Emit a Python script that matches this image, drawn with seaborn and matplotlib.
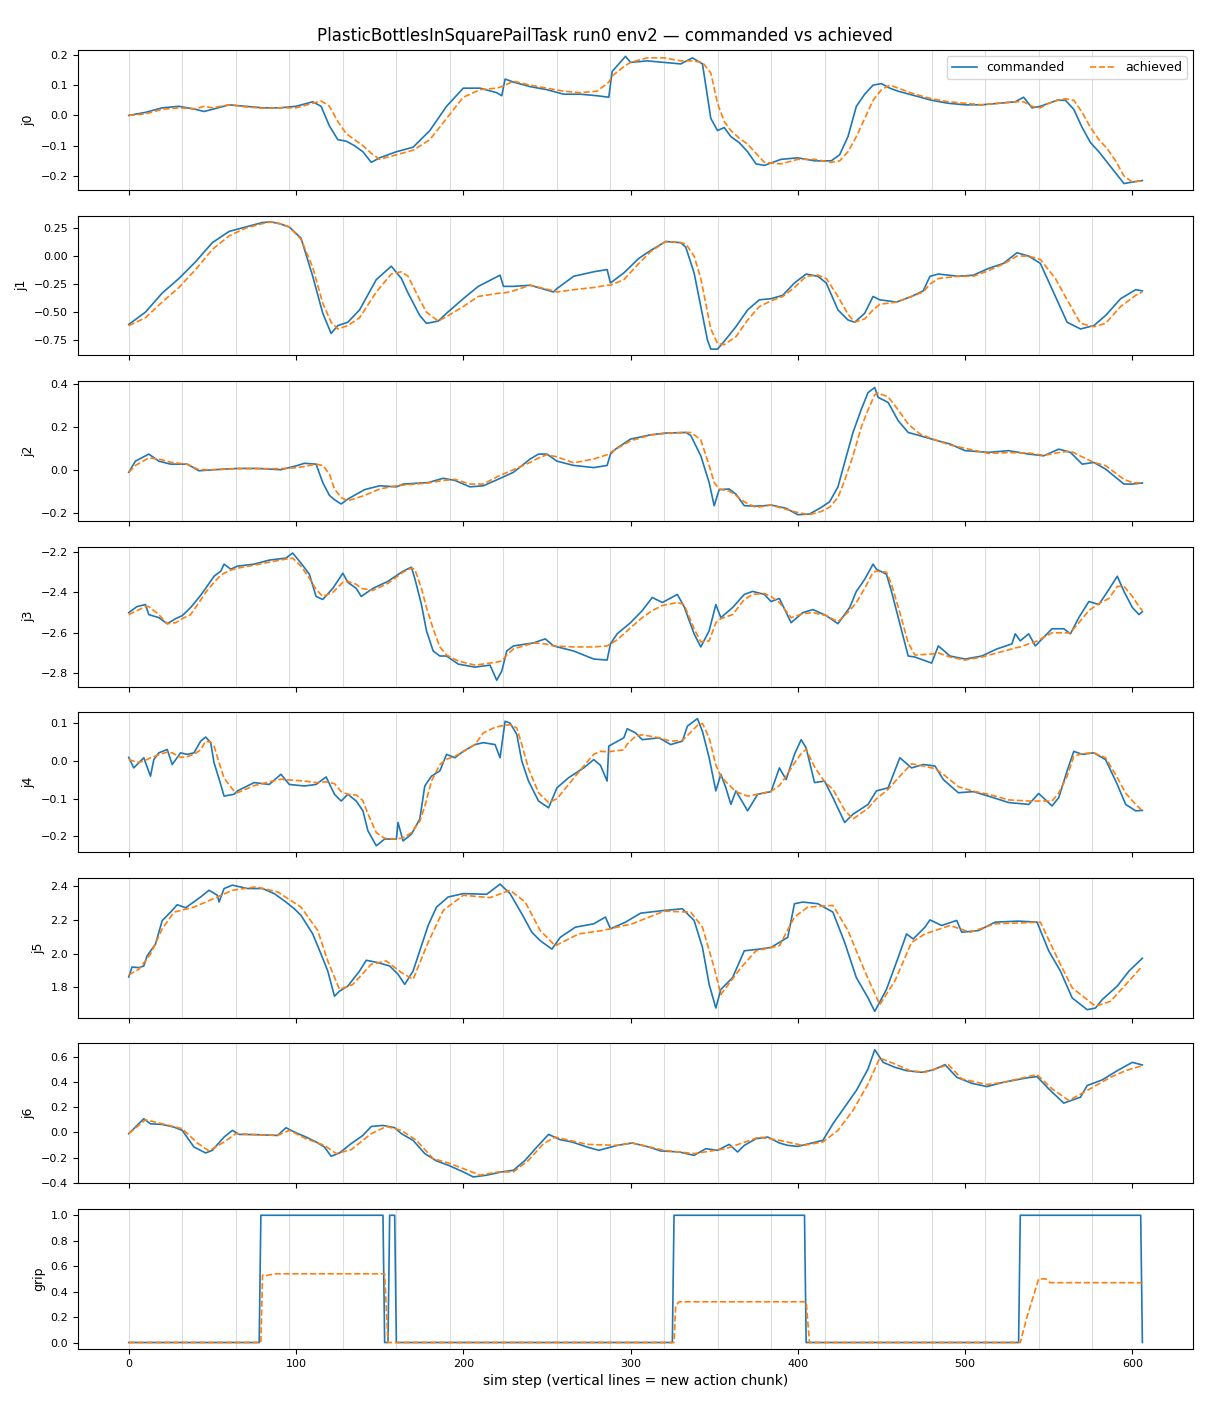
import matplotlib
matplotlib.use("Agg")
import matplotlib.pyplot as plt
import seaborn as sns

# Commanded vs achieved joint positions (sim steps 0-606)
chunk_starts = [0, 32, 64, 96, 128, 160, 192, 224, 256, 288,
                320, 352, 384, 416, 448, 480, 512, 544, 576]

joint_names = ["j0", "j1", "j2", "j3", "j4", "j5", "j6", "grip"]

# ---- j0
j0_steps = [0, 10, 20, 30, 40, 45, 50, 60, 70, 80,
            90, 100, 110, 115, 120, 125, 130, 135, 140, 145,
            150, 160, 170, 180, 190, 200, 210, 220, 223, 225,
            230, 240, 250, 260, 270, 280, 287, 289, 297, 300,
            310, 320, 330, 337, 343, 348, 352, 356, 360, 365,
            370, 375, 380, 390, 400, 410, 420, 425, 430, 435,
            440, 445, 450, 455, 460, 470, 480, 490, 500, 510,
            520, 530, 535, 540, 545, 550, 555, 560, 565, 570,
            575, 580, 585, 590, 595, 600, 606]
j0_cmd = [0.0, 0.01, 0.025, 0.03, 0.02, 0.013, 0.02, 0.035, 0.03, 0.025,
          0.025, 0.03, 0.045, 0.03, -0.035, -0.08, -0.085, -0.1, -0.12, -0.155,
          -0.14, -0.12, -0.105, -0.05, 0.03, 0.09, 0.09, 0.075, 0.065, 0.12,
          0.11, 0.095, 0.085, 0.07, 0.07, 0.065, 0.06, 0.145, 0.195, 0.175,
          0.18, 0.175, 0.17, 0.19, 0.17, -0.01, -0.05, -0.04, -0.07, -0.09,
          -0.12, -0.16, -0.165, -0.145, -0.14, -0.15, -0.15, -0.13, -0.07, 0.03,
          0.07, 0.1, 0.105, 0.09, 0.08, 0.065, 0.05, 0.04, 0.035, 0.035,
          0.04, 0.045, 0.06, 0.025, 0.03, 0.04, 0.05, 0.05, 0.02, -0.04,
          -0.09, -0.12, -0.155, -0.19, -0.225, -0.22, -0.215]
j0_ach = [0.0, 0.005, 0.02, 0.025, 0.022, 0.03, 0.025, 0.035, 0.028, 0.024,
          0.025, 0.025, 0.04, 0.048, 0.03, -0.02, -0.06, -0.08, -0.1, -0.125,
          -0.145, -0.13, -0.115, -0.08, -0.01, 0.06, 0.085, 0.09, 0.095, 0.1,
          0.113, 0.1, 0.09, 0.08, 0.075, 0.08, 0.11, 0.13, 0.165, 0.175,
          0.19, 0.19, 0.18, 0.18, 0.175, 0.14, 0.04, -0.02, -0.05, -0.075,
          -0.095, -0.125, -0.155, -0.16, -0.145, -0.145, -0.155, -0.15, -0.12, -0.07,
          -0.01, 0.05, 0.085, 0.1, 0.09, 0.07, 0.055, 0.045, 0.04, 0.035,
          0.04, 0.045, 0.045, 0.03, 0.025, 0.04, 0.05, 0.055, 0.05, 0.01,
          -0.04, -0.08, -0.11, -0.15, -0.2, -0.22, -0.215]

# ---- j1
j1_steps = [0, 10, 20, 30, 40, 50, 60, 70, 80, 85,
            90, 96, 103, 110, 116, 121, 125, 131, 138, 148,
            157, 163, 167, 174, 178, 185, 190, 200, 209, 222,
            224, 230, 240, 254, 256, 266, 278, 286, 288, 296,
            305, 312, 321, 330, 333, 338, 342, 346, 348, 352,
            356, 363, 370, 377, 384, 391, 398, 405, 412, 417,
            424, 430, 434, 440, 445, 449, 459, 468, 475, 479,
            484, 496, 505, 514, 523, 531, 538, 545, 554, 561,
            569, 577, 584, 593, 602, 606]
j1_cmd = [-0.61, -0.5, -0.33, -0.2, -0.05, 0.12, 0.22, 0.26, 0.3, 0.305,
          0.29, 0.26, 0.16, -0.18, -0.51, -0.69, -0.62, -0.59, -0.48, -0.21,
          -0.09, -0.2, -0.33, -0.53, -0.6, -0.58, -0.51, -0.38, -0.27, -0.17,
          -0.27, -0.27, -0.26, -0.32, -0.29, -0.18, -0.14, -0.12, -0.24, -0.15,
          -0.02, 0.05, 0.13, 0.12, 0.08, -0.15, -0.45, -0.75, -0.83, -0.83,
          -0.76, -0.63, -0.48, -0.39, -0.38, -0.35, -0.24, -0.16, -0.18, -0.24,
          -0.48, -0.57, -0.59, -0.51, -0.36, -0.39, -0.41, -0.36, -0.31, -0.18,
          -0.16, -0.18, -0.17, -0.11, -0.065, 0.03, 0.0, -0.065, -0.36, -0.59,
          -0.65, -0.62, -0.53, -0.38, -0.3, -0.31]
j1_ach = [-0.62, -0.55, -0.41, -0.28, -0.12, 0.06, 0.18, 0.25, 0.29, 0.305,
          0.29, 0.26, 0.15, -0.1, -0.42, -0.59, -0.65, -0.62, -0.55, -0.32,
          -0.16, -0.14, -0.18, -0.39, -0.5, -0.58, -0.54, -0.45, -0.36, -0.33,
          -0.33, -0.31, -0.26, -0.31, -0.32, -0.3, -0.28, -0.26, -0.26, -0.21,
          -0.065, 0.04, 0.13, 0.12, 0.11, 0.0, -0.2, -0.5, -0.65, -0.78,
          -0.79, -0.72, -0.57, -0.45, -0.4, -0.36, -0.28, -0.18, -0.17, -0.2,
          -0.36, -0.52, -0.59, -0.56, -0.48, -0.43, -0.41, -0.36, -0.32, -0.25,
          -0.2, -0.18, -0.18, -0.13, -0.07, 0.0, 0.0, -0.03, -0.2, -0.39,
          -0.6, -0.63, -0.6, -0.45, -0.35, -0.32]

# ---- j2
j2_steps = [0, 4, 12, 18, 25, 35, 42, 51, 65, 77,
            91, 101, 105, 112, 116, 120, 123, 127, 131, 141,
            150, 160, 164, 179, 188, 195, 204, 212, 221, 230,
            240, 245, 250, 256, 266, 278, 286, 288, 291, 300,
            312, 321, 333, 336, 342, 347, 350, 353, 359, 363,
            368, 375, 380, 384, 393, 400, 407, 414, 419, 424,
            428, 433, 438, 442, 446, 448, 454, 460, 466, 473,
            480, 491, 500, 514, 526, 538, 547, 556, 563, 570,
            577, 584, 595, 600, 606]
j2_cmd = [-0.012, 0.04, 0.073, 0.04, 0.026, 0.026, -0.005, 0.0, 0.006, 0.006,
          0.0, 0.02, 0.03, 0.026, -0.06, -0.12, -0.14, -0.16, -0.137, -0.093,
          -0.075, -0.08, -0.067, -0.06, -0.04, -0.05, -0.08, -0.075, -0.044, -0.012,
          0.05, 0.073, 0.073, 0.04, 0.02, 0.01, 0.02, 0.073, 0.096, 0.143,
          0.163, 0.171, 0.174, 0.16, 0.065, -0.06, -0.168, -0.093, -0.09, -0.114,
          -0.168, -0.17, -0.168, -0.165, -0.18, -0.21, -0.207, -0.176, -0.15, -0.08,
          0.034, 0.174, 0.283, 0.36, 0.384, 0.338, 0.314, 0.229, 0.174, 0.159,
          0.143, 0.12, 0.089, 0.081, 0.089, 0.073, 0.065, 0.096, 0.081, 0.026,
          0.034, 0.003, -0.067, -0.067, -0.062]
j2_ach = [-0.012, 0.02, 0.055, 0.05, 0.035, 0.025, 0.0, 0.0, 0.005, 0.005,
          0.005, 0.01, 0.015, 0.026, 0.02, -0.02, -0.09, -0.13, -0.145, -0.12,
          -0.09, -0.075, -0.072, -0.062, -0.05, -0.045, -0.067, -0.067, -0.03, 0.0,
          0.034, 0.055, 0.07, 0.06, 0.032, 0.05, 0.07, 0.08, 0.095, 0.135,
          0.162, 0.17, 0.174, 0.174, 0.14, 0.02, -0.06, -0.09, -0.1, -0.12,
          -0.15, -0.176, -0.17, -0.165, -0.185, -0.2, -0.21, -0.195, -0.175, -0.13,
          -0.05, 0.065, 0.2, 0.28, 0.35, 0.358, 0.34, 0.28, 0.213, 0.167,
          0.145, 0.115, 0.1, 0.076, 0.08, 0.078, 0.067, 0.08, 0.087, 0.06,
          0.034, 0.019, -0.045, -0.06, -0.062]

# ---- j3
j3_steps = [0, 5, 10, 12, 18, 23, 28, 32, 37, 42,
            46, 51, 55, 57, 61, 65, 75, 84, 94, 98,
            103, 108, 112, 116, 122, 128, 131, 136, 139, 146,
            155, 164, 169, 171, 175, 178, 182, 186, 190, 197,
            207, 216, 220, 223, 226, 230, 242, 249, 254, 266,
            278, 286, 288, 292, 300, 307, 313, 319, 328, 332,
            338, 342, 347, 351, 354, 361, 368, 373, 380, 384,
            389, 396, 403, 409, 417, 424, 431, 435, 440, 445,
            447, 453, 456, 461, 466, 470, 480, 484, 491, 500,
            510, 519, 528, 530, 533, 538, 542, 552, 559, 563,
            568, 574, 580, 586, 591, 595, 600, 604, 606]
j3_cmd = [-2.5, -2.47, -2.46, -2.51, -2.525, -2.555, -2.53, -2.515, -2.475, -2.425,
          -2.38, -2.32, -2.295, -2.26, -2.285, -2.27, -2.26, -2.24, -2.23, -2.205,
          -2.255, -2.31, -2.42, -2.435, -2.38, -2.305, -2.35, -2.38, -2.42, -2.38,
          -2.345, -2.295, -2.275, -2.33, -2.46, -2.59, -2.69, -2.715, -2.715, -2.755,
          -2.77, -2.76, -2.835, -2.79, -2.69, -2.665, -2.65, -2.63, -2.665, -2.69,
          -2.73, -2.735, -2.655, -2.605, -2.55, -2.49, -2.425, -2.45, -2.41, -2.47,
          -2.605, -2.67, -2.59, -2.46, -2.525, -2.475, -2.41, -2.395, -2.41, -2.445,
          -2.43, -2.55, -2.5, -2.485, -2.515, -2.555, -2.475, -2.395, -2.335, -2.26,
          -2.285, -2.31, -2.395, -2.555, -2.715, -2.72, -2.75, -2.665, -2.715, -2.73,
          -2.715, -2.68, -2.655, -2.605, -2.64, -2.605, -2.665, -2.58, -2.58, -2.605,
          -2.525, -2.445, -2.46, -2.385, -2.32, -2.395, -2.475, -2.51, -2.495]
j3_ach = [-2.51, -2.49, -2.47, -2.47, -2.51, -2.555, -2.55, -2.53, -2.51, -2.45,
          -2.4, -2.35, -2.315, -2.305, -2.29, -2.28, -2.265, -2.25, -2.235, -2.23,
          -2.27, -2.33, -2.385, -2.42, -2.4, -2.35, -2.345, -2.36, -2.38, -2.39,
          -2.355, -2.3, -2.28, -2.285, -2.38, -2.475, -2.58, -2.67, -2.71, -2.74,
          -2.76, -2.75, -2.745, -2.74, -2.71, -2.68, -2.65, -2.655, -2.665, -2.67,
          -2.67, -2.665, -2.655, -2.635, -2.575, -2.525, -2.49, -2.465, -2.45, -2.46,
          -2.58, -2.645, -2.64, -2.55, -2.53, -2.51, -2.435, -2.41, -2.405, -2.42,
          -2.45, -2.525, -2.505, -2.5, -2.515, -2.545, -2.49, -2.45, -2.38, -2.3,
          -2.295, -2.3, -2.36, -2.5, -2.65, -2.71, -2.705, -2.7, -2.72, -2.735,
          -2.72, -2.7, -2.68, -2.675, -2.67, -2.655, -2.645, -2.6, -2.6, -2.6,
          -2.55, -2.49, -2.455, -2.43, -2.37, -2.37, -2.42, -2.47, -2.49]

# ---- j4
j4_steps = [0, 3, 5, 9, 13, 15, 18, 23, 26, 31,
            35, 39, 43, 46, 49, 51, 55, 57, 63, 65,
            75, 84, 91, 96, 105, 112, 118, 123, 127, 131,
            136, 140, 143, 148, 153, 160, 161, 164, 169, 174,
            177, 181, 186, 190, 195, 200, 207, 212, 219, 222,
            225, 228, 232, 235, 239, 245, 251, 256, 263, 272,
            278, 282, 286, 287, 296, 298, 303, 307, 317, 324,
            331, 334, 340, 343, 347, 351, 354, 357, 360, 363,
            370, 376, 384, 389, 393, 398, 402, 405, 410, 416,
            421, 428, 433, 442, 447, 454, 461, 468, 475, 482,
            487, 496, 505, 514, 526, 538, 544, 552, 556, 561,
            565, 570, 577, 584, 591, 596, 602, 606]
j4_cmd = [0.01, -0.018, -0.009, 0.009, -0.04, 0.004, 0.022, 0.031, -0.009, 0.022,
          0.018, 0.022, 0.053, 0.064, 0.049, -0.004, -0.062, -0.093, -0.088, -0.079,
          -0.057, -0.062, -0.035, -0.062, -0.066, -0.062, -0.042, -0.088, -0.106, -0.088,
          -0.106, -0.132, -0.185, -0.225, -0.207, -0.207, -0.163, -0.212, -0.194, -0.154,
          -0.066, -0.04, -0.026, 0.018, 0.009, 0.026, 0.044, 0.049, 0.044, 0.009,
          0.106, 0.101, 0.071, 0.0, -0.053, -0.106, -0.124, -0.071, -0.044, -0.018,
          0.004, -0.011, -0.053, 0.04, 0.062, 0.086, 0.075, 0.057, 0.062, 0.044,
          0.053, 0.093, 0.113, 0.079, 0.009, -0.079, -0.035, -0.071, -0.115, -0.079,
          -0.132, -0.088, -0.081, -0.018, -0.049, 0.018, 0.057, 0.035, -0.057, -0.053,
          -0.097, -0.163, -0.141, -0.115, -0.079, -0.071, 0.009, -0.018, -0.009, -0.013,
          -0.049, -0.084, -0.081, -0.093, -0.11, -0.115, -0.086, -0.119, -0.097, -0.026,
          0.026, 0.018, 0.022, 0.004, -0.062, -0.115, -0.132, -0.131]
j4_ach = [0.004, 0.0, -0.004, 0.0, 0.009, 0.012, 0.017, 0.024, 0.022, 0.01,
          0.012, 0.018, 0.03, 0.053, 0.05, 0.04, -0.018, -0.045, -0.08, -0.084,
          -0.065, -0.055, -0.048, -0.05, -0.053, -0.057, -0.055, -0.06, -0.081, -0.088,
          -0.09, -0.105, -0.14, -0.19, -0.205, -0.207, -0.206, -0.204, -0.19, -0.16,
          -0.12, -0.053, -0.009, 0.005, 0.013, 0.025, 0.044, 0.075, 0.09, 0.093,
          0.095, 0.097, 0.088, 0.044, -0.02, -0.084, -0.11, -0.1, -0.062, -0.013,
          0.018, 0.026, 0.025, 0.025, 0.03, 0.045, 0.066, 0.07, 0.062, 0.053,
          0.055, 0.068, 0.095, 0.1, 0.062, -0.01, -0.04, -0.055, -0.068, -0.081,
          -0.093, -0.088, -0.08, -0.065, -0.04, -0.005, 0.02, 0.031, -0.015, -0.055,
          -0.075, -0.13, -0.154, -0.125, -0.1, -0.075, -0.04, -0.007, -0.013, -0.02,
          -0.035, -0.068, -0.08, -0.088, -0.103, -0.106, -0.106, -0.106, -0.085, -0.04,
          0.013, 0.02, 0.022, 0.009, -0.044, -0.085, -0.115, -0.132]

# ---- j5 (commanded and achieved read at their own steps)
j5_cmd_steps = [0, 2, 6, 9, 11, 16, 20, 25, 29, 34,
                43, 48, 53, 54, 57, 62, 71, 80, 87, 94,
                99, 103, 110, 115, 119, 123, 126, 131, 138, 142,
                149, 156, 161, 165, 170, 175, 179, 184, 191, 200,
                214, 222, 228, 235, 241, 246, 253, 258, 267, 278,
                285, 288, 297, 306, 320, 331, 338, 343, 347, 351,
                354, 361, 368, 377, 384, 394, 398, 403, 412, 421,
                428, 435, 442, 446, 453, 460, 465, 469, 476, 479,
                486, 495, 498, 508, 518, 532, 543, 550, 557, 564,
                573, 578, 582, 591, 598, 606]
j5_cmd = [1.862, 1.921, 1.917, 1.927, 1.987, 2.057, 2.196, 2.246, 2.29, 2.272,
          2.336, 2.376, 2.346, 2.306, 2.386, 2.406, 2.386, 2.386, 2.356, 2.306,
          2.266, 2.227, 2.117, 1.997, 1.897, 1.748, 1.778, 1.808, 1.897, 1.961,
          1.947, 1.927, 1.878, 1.818, 1.897, 2.047, 2.167, 2.276, 2.336, 2.356,
          2.352, 2.412, 2.356, 2.236, 2.127, 2.077, 2.027, 2.097, 2.157, 2.177,
          2.217, 2.147, 2.187, 2.24, 2.256, 2.266, 2.197, 2.037, 1.818, 1.678,
          1.788, 1.858, 2.017, 2.027, 2.037, 2.097, 2.296, 2.306, 2.296, 2.246,
          2.067, 1.858, 1.738, 1.658, 1.788, 1.977, 2.117, 2.087, 2.157, 2.2,
          2.167, 2.197, 2.127, 2.137, 2.187, 2.193, 2.187, 2.017, 1.897, 1.738,
          1.668, 1.678, 1.728, 1.808, 1.897, 1.973]
j5_ach_steps = [0, 6, 13, 20, 27, 39, 53, 62, 76, 89,
                103, 113, 119, 126, 134, 145, 154, 163, 170, 179,
                188, 200, 216, 228, 237, 246, 255, 269, 283, 301,
                320, 336, 343, 350, 354, 366, 375, 389, 398, 406,
                421, 430, 440, 449, 458, 468, 476, 491, 503, 518,
                545, 555, 564, 578, 587, 598, 606]
j5_ach = [1.874, 1.907, 1.997, 2.147, 2.246, 2.276, 2.336, 2.376, 2.396, 2.366,
          2.276, 2.137, 1.957, 1.788, 1.818, 1.937, 1.957, 1.888, 1.848, 2.067,
          2.256, 2.346, 2.332, 2.376, 2.306, 2.137, 2.047, 2.117, 2.137, 2.177,
          2.252, 2.246, 2.157, 1.917, 1.758, 1.917, 2.017, 2.047, 2.217, 2.276,
          2.286, 2.137, 1.897, 1.698, 1.838, 2.067, 2.117, 2.167, 2.127, 2.177,
          2.187, 1.977, 1.798, 1.688, 1.718, 1.838, 1.927]

# ---- j6
j6_cmd_steps = [0, 4, 9, 13, 20, 27, 32, 39, 46, 50,
                57, 62, 66, 76, 89, 94, 99, 106, 112, 117,
                121, 126, 133, 140, 145, 152, 159, 163, 170, 177,
                184, 191, 200, 206, 214, 223, 230, 237, 244, 251,
                258, 265, 274, 281, 292, 301, 311, 318, 329, 338,
                345, 352, 359, 364, 368, 375, 382, 389, 394, 400,
                407, 415, 421, 428, 435, 442, 446, 451, 458, 465,
                474, 481, 488, 495, 504, 513, 523, 537, 543, 550,
                559, 569, 573, 582, 591, 600, 606]
j6_cmd = [-0.01, 0.042, 0.108, 0.068, 0.063, 0.042, 0.016, -0.116, -0.163, -0.142,
          -0.037, 0.016, -0.016, -0.018, -0.024, 0.037, 0.003, -0.037, -0.076, -0.116,
          -0.189, -0.163, -0.089, -0.024, 0.047, 0.055, 0.037, -0.01, -0.063, -0.168,
          -0.226, -0.26, -0.313, -0.353, -0.339, -0.313, -0.3, -0.221, -0.116, -0.016,
          -0.058, -0.076, -0.116, -0.142, -0.103, -0.084, -0.116, -0.147, -0.155, -0.182,
          -0.129, -0.142, -0.095, -0.155, -0.103, -0.05, -0.037, -0.084, -0.103, -0.111,
          -0.089, -0.063, 0.068, 0.2, 0.332, 0.503, 0.655, 0.555, 0.516, 0.489,
          0.476, 0.495, 0.537, 0.437, 0.389, 0.363, 0.397, 0.432, 0.442, 0.345,
          0.232, 0.279, 0.371, 0.416, 0.489, 0.555, 0.534]
j6_ach_steps = [0, 10, 20, 32, 41, 48, 57, 64, 76, 89,
                96, 106, 117, 124, 133, 145, 154, 163, 172, 182,
                191, 200, 210, 221, 230, 239, 248, 255, 274, 292,
                301, 320, 338, 357, 377, 389, 403, 415, 424, 433,
                442, 449, 458, 467, 476, 490, 498, 513, 523, 543,
                552, 562, 573, 587, 596, 606]
j6_ach = [-0.01, 0.1, 0.068, 0.029, -0.084, -0.147, -0.076, -0.01, -0.018, -0.024,
          0.016, -0.05, -0.103, -0.168, -0.137, -0.01, 0.047, 0.016, -0.063, -0.208,
          -0.242, -0.287, -0.339, -0.313, -0.313, -0.221, -0.089, -0.037, -0.095, -0.103,
          -0.084, -0.142, -0.168, -0.129, -0.037, -0.063, -0.103, -0.076, 0.016, 0.174,
          0.384, 0.589, 0.542, 0.489, 0.476, 0.537, 0.424, 0.379, 0.397, 0.458,
          0.345, 0.253, 0.332, 0.437, 0.489, 0.529]

# ---- gripper
grip_cmd_steps = [0, 78, 79, 152, 153, 155, 156, 159, 160, 325,
                  326, 404, 405, 532, 533, 605, 606]
grip_cmd = [0, 0, 1, 1, 0, 0, 1, 1, 0, 0,
            1, 1, 0, 0, 1, 1, 0]
grip_ach_steps = [0, 79, 80, 82, 87, 153, 155, 326, 327, 329,
                  405, 407, 533, 537, 544, 548, 551, 554, 606]
grip_ach = [0, 0, 0.53, 0.525, 0.54, 0.54, 0.0, 0.0, 0.29, 0.32,
            0.32, 0.0, 0.0, 0.2, 0.5, 0.5, 0.47, 0.47, 0.47]

series = [
    (j0_steps, j0_cmd, j0_steps, j0_ach),
    (j1_steps, j1_cmd, j1_steps, j1_ach),
    (j2_steps, j2_cmd, j2_steps, j2_ach),
    (j3_steps, j3_cmd, j3_steps, j3_ach),
    (j4_steps, j4_cmd, j4_steps, j4_ach),
    (j5_cmd_steps, j5_cmd, j5_ach_steps, j5_ach),
    (j6_cmd_steps, j6_cmd, j6_ach_steps, j6_ach),
    (grip_cmd_steps, grip_cmd, grip_ach_steps, grip_ach),
]

fig, axes = plt.subplots(8, 1, figsize=(12.1, 14.08), dpi=100, sharex=True)
fig.subplots_adjust(left=0.0645, right=0.986, top=0.9645, bottom=0.042, hspace=0.183)

for i, (ax, name, (cs, cv, as_, av)) in enumerate(zip(axes, joint_names, series)):
    for s in chunk_starts:
        ax.axvline(s, color="#dddddd", lw=0.8, zorder=0)
    extra_c = {"label": "commanded"} if i == 0 else {}
    extra_a = {"label": "achieved"} if i == 0 else {}
    sns.lineplot(x=cs, y=cv, ax=ax, color="tab:blue", linewidth=1.2, **extra_c)
    sns.lineplot(x=as_, y=av, ax=ax, color="tab:orange", linewidth=1.2,
                 linestyle="--", **extra_a)
    ax.set_ylabel(name, fontsize=9)
    ax.tick_params(labelsize=8)

axes[0].legend(loc="upper right", ncol=2, fontsize=9)
for ax in axes[1:]:
    if ax.get_legend() is not None:
        ax.get_legend().remove()

axes[-1].set_xticks([0, 100, 200, 300, 400, 500, 600])
axes[-1].set_xlabel("sim step (vertical lines = new action chunk)", fontsize=10)
fig.suptitle("PlasticBottlesInSquarePailTask run0 env2 \u2014 commanded vs achieved",
             fontsize=12, y=0.981)

fig.savefig("out.png", dpi=100)
